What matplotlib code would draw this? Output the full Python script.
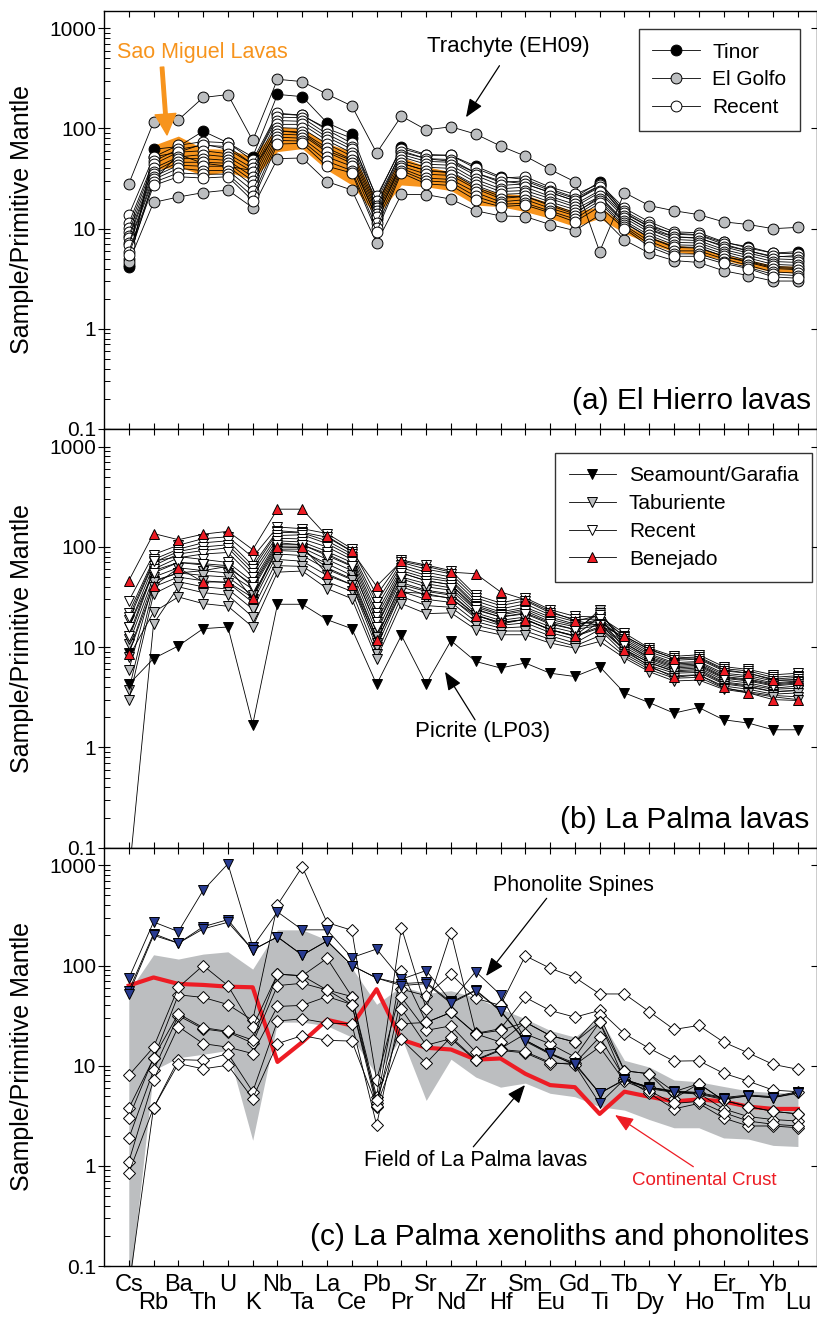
import numpy as np
import matplotlib.pyplot as plt
from matplotlib.lines import Line2D
from matplotlib.ticker import FixedLocator, LogLocator, NullFormatter

plt.rcParams['font.family'] = ['Liberation Sans', 'DejaVu Sans']

elements = ['Cs', 'Rb', 'Ba', 'Th', 'U', 'K', 'Nb', 'Ta', 'La', 'Ce', 'Pb', 'Pr', 'Sr', 'Nd',
            'Zr', 'Hf', 'Sm', 'Eu', 'Gd', 'Ti', 'Tb', 'Dy', 'Y', 'Ho', 'Er', 'Tm', 'Yb', 'Lu']
x = np.arange(len(elements))

# ---------------- (a) El Hierro lavas ----------------
tinor = [
    [4.1, 62, 66, 94, 72, 52, 219, 208, 114, 88, 20, 66, 55, 54, 42, 33, 31, 25, 20.5, 29.4, 14.5, 10.5, 9.0, 8.7, 7.3, 6.6, 5.7, 5.9],
    [4.3, 52, 58, 70, 62, 44, 140, 135, 100, 80, 17, 60, 50, 47, 36, 30, 28, 23, 19, 27, 13.5, 9.8, 8.3, 8.0, 6.8, 6.0, 5.2, 5.4],
]
el_golfo = [
    [28, 116, 122, 204, 218, 76, 310, 294, 220, 168, 57, 133, 97, 104, 88, 66.8, 53, 39, 29.4, 5.9, 22.9, 17, 15.1, 13.8, 11.7, 11, 10, 10.3],
    [5.0, 30, 55, 45, 42, 38, 95, 90, 60, 48, 12.5, 45, 38, 36, 26, 21, 21, 17, 14, 21, 11.5, 8.2, 6.6, 6.5, 5.3, 4.7, 4.1, 4.0],
    [4.6, 18.3, 20.7, 22.9, 24.3, 16.2, 50, 50.8, 29.5, 24.3, 7.2, 22, 21.9, 19.7, 15.1, 13.4, 13.2, 11, 9.55, 13.7, 7.7, 5.7, 4.8, 4.6, 3.8, 3.4, 3.0, 3.0],
]
recent_eh = [
    [13.7, 52, 68, 74, 72, 48, 142, 136, 97, 71, 21, 63, 54, 54, 40, 32, 33, 26, 22, 28, 16, 11.7, 9.3, 9.1, 7.4, 6.4, 5.7, 5.6],
    [11.3, 47, 62, 68, 66, 44, 130, 128, 88, 66, 19, 58, 50, 49, 36, 29, 30, 24, 20, 27, 15, 11, 8.8, 8.6, 7.0, 6.0, 5.3, 5.2],
    [10.2, 44, 58, 60, 56, 40, 120, 118, 82, 62, 17, 55, 47, 46, 34, 27, 28, 23, 19, 26, 14.2, 10.4, 8.3, 8.1, 6.6, 5.7, 5.0, 4.9],
    [9.3, 40, 52, 55, 52, 37, 110, 110, 76, 57, 16, 52, 44, 43, 31, 25, 26, 21, 17.5, 24, 13.5, 9.8, 7.8, 7.6, 6.2, 5.4, 4.7, 4.6],
    [8.5, 37, 50, 50, 48, 33, 102, 100, 70, 53, 15, 48, 41, 40, 29, 23.5, 24, 20, 16.5, 23, 12.8, 9.2, 7.3, 7.2, 5.9, 5.1, 4.4, 4.3],
    [8.0, 35, 46, 46, 45, 30, 95, 92, 64, 49, 14, 45, 38, 37, 27, 22, 22.5, 18.5, 15.5, 21, 12, 8.6, 6.9, 6.8, 5.6, 4.8, 4.2, 4.1],
    [7.2, 33, 43, 42, 42, 27, 88, 86, 58, 45, 13, 42, 35, 34, 25, 20, 21, 17.5, 14.5, 20, 11.4, 8.1, 6.5, 6.4, 5.3, 4.6, 4.0, 3.9],
    [6.9, 31, 40, 38, 38, 24, 82, 80, 52, 42, 11.5, 40, 32, 31, 23, 18.5, 19.5, 16, 13.5, 19, 10.8, 7.5, 6.0, 6.0, 5.0, 4.3, 3.7, 3.6],
    [5.9, 29, 36, 35, 35, 21, 76, 75, 47, 38, 10.2, 38, 30, 29, 21, 17.5, 18, 15, 12.5, 18, 10.4, 7.0, 5.6, 5.6, 4.7, 4.1, 3.5, 3.4],
    [5.5, 27, 33, 32, 33, 19, 70, 71, 42, 36, 9.3, 36, 28, 27, 19.3, 16.6, 17.2, 14.4, 11.7, 16.6, 10, 6.6, 5.3, 5.3, 4.5, 4.0, 3.3, 3.2],
]
# Sao Miguel field, Rb to Lu
sao_miguel_x = x[1:]
sao_miguel_high = [68, 84, 63, 62, 52, 104, 100, 71, 59, 19.3, 52, 41.6, 37, 26, 22.5, 21.7, 17.9, 14.8, 16.6, 10.9, 8.3, 6.9, 6.4, 5.5, 4.9, 4.3, 4.2]
sao_miguel_low = [38.6, 41.6, 34, 37, 30.6, 58.8, 63, 38.6, 27.3, 13.2, 27.3, 26.2, 24, 17.2, 16.6, 14.8, 12.7, 10.5, 12.7, 9.0, 7.1, 5.9, 5.5, 4.9, 4.2, 3.7, 3.6]

# ---------------- (b) La Palma lavas ----------------
seamount = [
    [4.26, 7.7, 10.3, 15.3, 15.9, 1.69, 26.8, 26.8, 18.8, 15.3, 4.26, 13.1, 4.3, 11.6, 7.2, 6.2, 6.95, 5.5, 5.1, 6.4, 3.5, 2.8, 2.2, 2.5, 1.89, 1.75, 1.5, 1.5],
    [8.8, 46, 55, 58, 64, 30, 95, 95, 62, 48, 12.4, 42, 36, 33, 21, 17, 19, 15, 13, 16, 9.5, 7.0, 5.7, 5.8, 4.4, 4.1, 3.6, 3.7],
]
taburiente = [
    [10.8, 50, 62, 58, 55, 38, 100, 98, 75, 58, 14, 48, 40, 37, 22, 18.5, 20, 16, 14, 23.7, 10, 7.3, 6.0, 6.2, 4.7, 4.4, 3.9, 4.1],
    [5.9, 45, 55, 52, 50, 33, 92, 90, 68, 52, 12.5, 44, 37, 34, 21, 17.5, 19, 15, 13, 20, 9.5, 7.0, 5.8, 6.0, 4.5, 4.2, 3.8, 3.9],
    [3.7, 40, 50, 46, 44, 28, 85, 82, 60, 47, 11, 40, 33, 31, 19.5, 16.5, 17.5, 14, 12, 18, 9, 6.6, 5.5, 5.6, 4.3, 4.0, 3.6, 3.7],
    [2.95, 34, 45, 40, 38, 24, 75, 72, 52, 42, 10, 36, 30, 28, 18, 15.5, 16, 13, 11, 15, 8.6, 6.3, 5.2, 5.3, 4.1, 3.8, 3.4, 3.5],
    [0.05, 17.1, 40, 35, 33, 20, 65, 64, 45, 36, 8.6, 32, 26, 25, 16.5, 14.5, 14.5, 12, 10.3, 13, 8.2, 6.0, 4.9, 5.0, 3.9, 3.6, 3.3, 3.2],
    [8.0, 22.4, 31.7, 27.2, 25.6, 15.9, 56, 57.5, 38.4, 30.5, 7.7, 27.2, 21.6, 22, 15, 13.3, 13.3, 11, 9.8, 11.4, 7.8, 5.7, 4.6, 4.7, 3.8, 3.5, 3.2, 3.0],
    [12, 58, 70, 66, 62, 42, 110, 105, 85, 65, 16, 55, 46, 42, 24, 20, 22, 17.5, 15, 22, 11, 7.8, 6.4, 6.6, 5.0, 4.7, 4.2, 4.4],
]
recent_lp = [
    [29, 84, 104, 121, 126, 79, 158, 152, 136, 96, 33, 74, 66, 58, 33, 27.6, 31, 23.7, 20.3, 20, 13.8, 9.8, 8.1, 8.4, 6.4, 6.0, 5.3, 5.5],
    [22, 75, 95, 110, 115, 65, 145, 140, 125, 90, 28, 70, 60, 54, 31, 26, 29, 22, 19, 19, 13, 9.4, 7.8, 8.0, 6.1, 5.8, 5.0, 5.2],
    [18.5, 70, 90, 100, 105, 60, 140, 138, 115, 85, 25, 66, 56, 50, 29, 24, 27, 21, 18, 21, 12.5, 9.0, 7.4, 7.6, 5.8, 5.5, 4.8, 5.0],
    [15.9, 65, 85, 92, 98, 55, 130, 132, 108, 80, 22, 62, 52, 47, 27, 22.5, 25, 20, 17, 18, 12, 8.6, 7.0, 7.2, 5.5, 5.2, 4.6, 4.8],
    [13, 60, 78, 85, 88, 50, 122, 120, 100, 75, 20, 58, 49, 45, 26, 21.5, 24, 19, 16.5, 19, 11.5, 8.3, 6.8, 7.0, 5.3, 5.0, 4.4, 4.6],
    [20, 72, 80, 75, 70, 45, 115, 112, 90, 70, 18, 55, 46, 42, 25, 21, 23, 18, 16, 17, 11, 8.0, 6.6, 6.8, 5.1, 4.8, 4.3, 4.5],
    [16, 55, 70, 68, 65, 40, 105, 105, 82, 64, 16, 50, 43, 39, 23.5, 20, 21.5, 17, 15, 16.5, 10.5, 7.6, 6.2, 6.4, 4.9, 4.6, 4.1, 4.3],
]
benejado = [
    [46, 136, 118, 134, 143, 94, 238, 238, 128, 90.6, 40.5, 72, 64, 56, 54, 35.6, 29.8, 22.8, 18.4, 16.5, 12.8, 9.6, 7.7, 7.8, 5.96, 5.5, 4.7, 4.7],
    [8.6, 40.5, 61.7, 44.7, 44.7, 31.2, 100, 100, 54, 42, 11.7, 35.6, 34.2, 30.5, 20.6, 17.7, 18.8, 14.9, 12.8, 15.5, 9.4, 6.5, 5.0, 5.3, 3.97, 3.5, 3.0, 2.94],
]

# ---------------- (c) La Palma xenoliths and phonolites ----------------
lp_field_high = [55, 128, 116, 130, 137, 92, 227, 227, 180, 95, 41, 62, 52.6, 56, 48, 37, 29.4, 22.5, 19.3, 30, 11.3, 9.7, 7.2, 6.9, 6.2, 5.6, 5.4, 5.3]
lp_field_low = [0.05, 9.0, 12, 13, 14.2, 1.8, 27.2, 27.2, 25, 19.3, 8.0, 19.3, 4.5, 11.6, 7.7, 6.1, 6.7, 5.3, 4.9, 3.9, 3.6, 2.9, 2.4, 2.4, 1.9, 1.85, 1.6, 1.56]
crust = [63, 76, 65.5, 64, 61.5, 60.6, 10.9, 17.2, 28.7, 25.2, 58, 18.2, 15.1, 14.5, 11.5, 11.8, 8.3, 6.4, 6.1, 3.3, 5.5, 4.9, 4.4, 4.6, 4.4, 3.9, 3.7, 3.7]
xenoliths = [
    [3.75, 11.8, 51, 48, 40.8, 28.3, 403, 966, 268, 225, 7.2, 58, 50, 82, 47, 40, 125, 94, 76, 52, 52, 34.7, 23, 25.2, 17.2, 13.4, 10.3, 9.2],
    [8.0, 15.3, 60.5, 100, 63, 24.3, 82, 79, 118, 49, 4.9, 239, 37, 213, 21, 23.4, 48, 35.6, 30.5, 35.6, 20.8, 14.9, 11.1, 11.2, 8.4, 7.0, 5.7, 5.5],
    [1.88, 9.0, 31.6, 23.3, 21.6, 16.8, 63, 66.5, 57, 49, 4.2, 89, 27, 34, 20.8, 17.2, 27.2, 20, 17.2, 31.7, 8.9, 8.3, 4.7, 6.6, 4.5, 3.9, 3.5, 3.3],
    [1.1, 7.2, 24.6, 16.6, 15.3, 13.2, 39, 40, 49, 40.8, 3.9, 48, 22.5, 25, 13.7, 14.8, 20.8, 16.5, 12.2, 27.2, 7.2, 6.1, 5.5, 5.3, 3.7, 3.1, 2.9, 2.8],
    [0.85, 3.8, 11.5, 11.3, 13.2, 5.5, 27.9, 29.4, 26.6, 26.2, 2.56, 36.9, 16, 18.6, 11.3, 14.2, 13.4, 10.5, 10.6, 19.3, 7.5, 5.3, 3.7, 4.2, 3.0, 2.5, 2.5, 2.4],
    [0.06, 3.8, 10.5, 9.3, 10.1, 4.7, 16.6, 20, 17.9, 17.6, 4.0, 18.3, 10.6, 19.3, 11.5, 14.5, 13.8, 10.8, 10.2, 15.4, 7.0, 5.6, 4.2, 4.4, 3.4, 2.8, 2.6, 2.5],
    [3.0, 12, 33, 24, 22, 18, 82, 79, 57, 40.8, 4.5, 26.2, 27, 34, 20.8, 22.5, 27.2, 20, 17.2, 27.2, 8.9, 8.3, 5.5, 6.6, 4.5, 3.9, 3.5, 3.3],
]
phonolites = [
    [74.5, 272, 218, 562, 1035, 154, 343, 227, 227, 120, 146, 73, 89, 44, 87, 51, 18, 13.3, 10.6, 5.3, 7.3, 6.1, 5.6, 5.4, 4.8, 5.1, 4.9, 5.5],
    [56, 208, 167, 244, 287, 143, 193, 127, 176, 100, 75, 66, 68, 43, 57, 35.5, 17.9, 13.3, 10.1, 4.2, 7.3, 6.0, 5.5, 5.3, 4.7, 5.0, 4.8, 5.4],
    [52, 200, 167, 232, 270, 143, 193, 127, 176, 100, 75, 63, 66, 42, 56, 35, 17.5, 13.0, 10.3, 5.3, 7.2, 5.9, 5.4, 5.2, 4.6, 5.0, 4.8, 5.3],
]

ORANGE = '#F7941D'
GREY = '#BCBEC0'
RED = '#ED1C24'
BLUE = '#283B91'


def draw(ax, rows, marker, face, ms):
    for r in rows:
        ax.plot(x, r, color='black', lw=0.6, marker=marker, ms=ms,
                mfc=face, mec='black', mew=0.7, zorder=3)


def style_axis(ax, show_xlabels=False):
    ax.set_yscale('log')
    ax.set_ylim(0.1, 1500)
    ax.set_xlim(-0.98, 27.75)
    ax.yaxis.set_major_locator(FixedLocator([0.1, 1, 10, 100, 1000]))
    ax.set_yticklabels(['0.1', '1', '10', '100', '1000'])
    ax.yaxis.set_minor_locator(LogLocator(base=10, subs=np.arange(2, 10)))
    ax.yaxis.set_minor_formatter(NullFormatter())
    ax.tick_params(axis='y', which='major', direction='inout', length=8, width=0.8,
                   left=True, right=True, labelsize=15, pad=2)
    ax.tick_params(axis='y', which='minor', direction='in', length=4, width=0.7,
                   left=True, right=False)
    ax.set_xticks(x[::2], elements[::2])
    ax.set_xticks(x[1::2], elements[1::2], minor=True)
    ax.tick_params(axis='x', which='both', direction='in', length=4, width=0.8,
                   top=True, bottom=True, labelsize=17)
    ax.tick_params(axis='x', which='major', pad=6)
    ax.tick_params(axis='x', which='minor', pad=19)
    if not show_xlabels:
        ax.tick_params(axis='x', which='both', labelbottom=False)
    for s in ax.spines.values():
        s.set_linewidth(1.0)
    ax.set_ylabel('Sample/Primitive Mantle', fontsize=18)
    ax.yaxis.set_label_coords(-0.099, 0.5)


def arrow(ax, tail, tip, color='black'):
    ax.annotate('', xy=tip, xytext=tail, xycoords='axes fraction',
                arrowprops=dict(arrowstyle='-|>,head_length=0.7,head_width=0.28',
                                color=color, lw=0.9, shrinkA=0, shrinkB=0,
                                mutation_scale=16))


def add_legend(ax, handles, labels, anchor):
    leg = ax.legend(handles, labels, loc='upper right', bbox_to_anchor=anchor,
                    fontsize=15, frameon=True, fancybox=False, handlelength=2.3,
                    handletextpad=0.6, labelspacing=0.42, borderpad=0.65,
                    borderaxespad=0)
    leg.get_frame().set_edgecolor('black')
    leg.get_frame().set_linewidth(1.0)


fig = plt.figure(figsize=(8.17, 13.2), dpi=100)
L, W = 0.1279, 0.8715
ax_a = fig.add_axes([L, 0.675, W, 0.3169])
ax_b = fig.add_axes([L, 0.3578, W, 0.3172])
ax_c = fig.add_axes([L, 0.0409, W, 0.3169])

# (a)
ax_a.fill_between(sao_miguel_x, sao_miguel_low, sao_miguel_high, color=ORANGE, lw=0, zorder=1)
draw(ax_a, tinor, 'o', 'black', 7.8)
draw(ax_a, el_golfo, 'o', GREY, 7.8)
draw(ax_a, recent_eh, 'o', 'white', 7.8)
style_axis(ax_a)
ax_a.text(0.0176, 0.899, 'Sao Miguel Lavas', color=ORANGE, fontsize=15.5,
          transform=ax_a.transAxes, ha='left', va='center')
ax_a.annotate('', xy=(0.0878, 0.703), xytext=(0.0808, 0.865), xycoords='axes fraction',
              arrowprops=dict(width=2.5, headwidth=15, headlength=15, color=ORANGE, shrink=0))
ax_a.text(0.5667, 0.914, 'Trachyte (EH09)', fontsize=16, transform=ax_a.transAxes,
          ha='center', va='center')
arrow(ax_a, (0.5547, 0.8685), (0.5077, 0.7452))
ax_a.text(0.993, 0.047, '(a) El Hierro lavas', fontsize=21.5, transform=ax_a.transAxes,
          ha='right', va='baseline')
handles_a = [Line2D([], [], color='black', lw=0.6, marker='o', ms=7.8, mfc=f, mec='black', mew=0.7)
             for f in ['black', GREY, 'white']]
add_legend(ax_a, handles_a, ['Tinor', 'El Golfo', 'Recent'], (0.977, 0.956))

# (b)
draw(ax_b, seamount[1:], 'v', 'black', 7.5)
draw(ax_b, taburiente, 'v', GREY, 7.5)
draw(ax_b, recent_lp, 'v', 'white', 7.5)
draw(ax_b, seamount[:1], 'v', 'black', 7.5)
draw(ax_b, benejado, '^', RED, 7.5)
style_axis(ax_b)
ax_b.text(0.5316, 0.277, 'Picrite (LP03)', fontsize=16, transform=ax_b.transAxes,
          ha='center', va='center')
arrow(ax_b, (0.5204, 0.3055), (0.4782, 0.4203))
ax_b.text(0.99, 0.048, '(b) La Palma lavas', fontsize=21.5, transform=ax_b.transAxes,
          ha='right', va='baseline')
handles_b = [Line2D([], [], color='black', lw=0.6, marker=m, ms=7.5, mfc=f, mec='black', mew=0.7)
             for m, f in [('v', 'black'), ('v', GREY), ('v', 'white'), ('^', RED)]]
add_legend(ax_b, handles_b, ['Seamount/Garafia', 'Taburiente', 'Recent', 'Benejado'],
           (0.994, 0.943))

# (c)
ax_c.fill_between(x, lp_field_low, lp_field_high, color=GREY, lw=0, zorder=1)
ax_c.plot(x, crust, color=RED, lw=3, zorder=2)
draw(ax_c, xenoliths, 'D', 'white', 6)
draw(ax_c, phonolites, 'v', BLUE, 7.5)
style_axis(ax_c, show_xlabels=True)
ax_c.text(0.6584, 0.9108, 'Phonolite Spines', fontsize=15.5, transform=ax_c.transAxes,
          ha='center', va='center')
arrow(ax_c, (0.621, 0.879), (0.5358, 0.6933))
ax_c.text(0.5218, 0.2534, 'Field of La Palma lavas', fontsize=15.5, transform=ax_c.transAxes,
          ha='center', va='center')
arrow(ax_c, (0.518, 0.285), (0.5906, 0.4327))
ax_c.text(0.8424, 0.204, 'Continental Crust', fontsize=13.5, color=RED,
          transform=ax_c.transAxes, ha='center', va='center')
arrow(ax_c, (0.827, 0.2374), (0.717, 0.361), color=RED)
ax_c.text(0.99, 0.05, '(c) La Palma xenoliths and phonolites', fontsize=21.5,
          transform=ax_c.transAxes, ha='right', va='baseline')

fig.savefig('out.png', dpi=100)
